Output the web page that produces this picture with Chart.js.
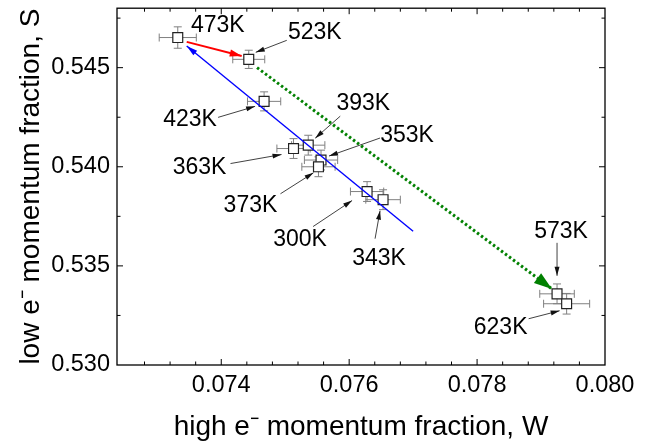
<!DOCTYPE html>
<html>
<head>
<meta charset="utf-8">
<script src="https://cdn.jsdelivr.net/npm/chart.js@4.4.0/dist/chart.umd.min.js"></script>
<style>
  html, body { margin: 0; padding: 0; background: #fff; }
  #grafico { display: block; }
</style>
</head>
<body>
<canvas id="grafico" width="655" height="446"></canvas>
<script>
// datos
const temperaturas = ['300K', '343K', '353K', '363K', '373K', '393K', '423K', '473K', '523K', '573K', '623K'];
const fraccionW = [0.07628, 0.07653, 0.07556, 0.07513, 0.07552, 0.07536, 0.07467, 0.07332, 0.07443, 0.07925, 0.07940];
const fraccionS = [0.53875, 0.53834, 0.54034, 0.54092, 0.54000, 0.54109, 0.54330, 0.54652, 0.54542, 0.53359, 0.53309];
const errorW = [0.00026, 0.00027, 0.00026, 0.00026, 0.00026, 0.00026, 0.00026, 0.00029, 0.00025, 0.00027, 0.00036];
const errorS = [0.00050, 0.00050, 0.00050, 0.00050, 0.00050, 0.00050, 0.00048, 0.00054, 0.00046, 0.00050, 0.00052];

// flechas de tendencia (inicio -> punta)
const flechaRojaW = [0.07346, 0.07432];
const flechaRojaS = [0.54630, 0.54559];
const flechaAzulW = [0.07700, 0.07346];
const flechaAzulS = [0.53675, 0.54609];
const flechaVerdeW = [0.07456, 0.07917];
const flechaVerdeS = [0.54500, 0.53384];

const ticksW = [0.074, 0.076, 0.078, 0.080];
const ticksS = [0.530, 0.535, 0.540, 0.545];
const pasoMenorW = 0.0004;
const pasoMenorS = 0.0025;

// posicion de las etiquetas respecto a cada punto (px)
const posEtiquetas = {
  '300K': { texto: [-67, 48], desde: [-54, 35], hasta: [-15, 9] },
  '343K': { texto: [-4, 59], desde: [-8, 39], hasta: [-3, 11] },
  '353K': { texto: [86, -24], desde: [59, -22], hasta: [8, -4] },
  '363K': { texto: [-94, 19], desde: [-63, 15], hasta: [-12, 6] },
  '373K': { texto: [-68, 39], desde: [-38, 27], hasta: [-5, 6] },
  '393K': { texto: [55, -42], desde: [32, -29], hasta: [7, -7] },
  '423K': { texto: [-74, 18], desde: [-46, 16], hasta: [-9, 5] },
  '473K': { texto: [40, -12] },
  '523K': { texto: [66, -27], desde: [38, -19], hasta: [7, -7] },
  '573K': { texto: [4, -62], desde: [0, -51], hasta: [0, -18] },
  '623K': { texto: [-66, 24], desde: [-38, 15], hasta: [-7, 7] }
};

const fuente = '"Liberation Sans", Arial, sans-serif';
Chart.defaults.font.family = fuente;
Chart.defaults.color = '#000';

function dibujarPunta(ctx, x0, y0, x1, y1, largo, ancho, color) {
  const ang = Math.atan2(y1 - y0, x1 - x0);
  ctx.save();
  ctx.translate(x1, y1);
  ctx.rotate(ang);
  ctx.beginPath();
  ctx.moveTo(0, 0);
  ctx.lineTo(-largo, -ancho / 2);
  ctx.lineTo(-largo, ancho / 2);
  ctx.closePath();
  ctx.fillStyle = color;
  ctx.fill();
  ctx.restore();
}

function lineaConPunta(ctx, x0, y0, x1, y1, color) {
  ctx.save();
  ctx.strokeStyle = color;
  ctx.lineWidth = 0.8;
  ctx.beginPath();
  ctx.moveTo(x0, y0);
  ctx.lineTo(x1, y1);
  ctx.stroke();
  ctx.restore();
  dibujarPunta(ctx, x0, y0, x1, y1, 9, 5, color);
}

const pluginDetalles = {
  id: 'detalles',
  beforeDatasetsDraw(chart) {
    const ctx = chart.ctx;
    const ex = chart.scales.x;
    const ey = chart.scales.y;
    ctx.save();
    ctx.strokeStyle = '#808080';
    ctx.lineWidth = 1;
    const tapa = 4;
    fraccionW.forEach((w, i) => {
      const s = fraccionS[i];
      const x = ex.getPixelForValue(w);
      const y = ey.getPixelForValue(s);
      const xa = ex.getPixelForValue(w - errorW[i]);
      const xb = ex.getPixelForValue(w + errorW[i]);
      const ya = ey.getPixelForValue(s - errorS[i]);
      const yb = ey.getPixelForValue(s + errorS[i]);
      ctx.beginPath();
      ctx.moveTo(xa, y); ctx.lineTo(xb, y);
      ctx.moveTo(xa, y - tapa); ctx.lineTo(xa, y + tapa);
      ctx.moveTo(xb, y - tapa); ctx.lineTo(xb, y + tapa);
      ctx.moveTo(x, ya); ctx.lineTo(x, yb);
      ctx.moveTo(x - tapa, ya); ctx.lineTo(x + tapa, ya);
      ctx.moveTo(x - tapa, yb); ctx.lineTo(x + tapa, yb);
      ctx.stroke();
    });
    ctx.restore();
  },
  afterDatasetsDraw(chart) {
    const ctx = chart.ctx;
    const ex = chart.scales.x;
    const ey = chart.scales.y;
    const area = chart.chartArea;

    // puntas de las flechas de tendencia
    const puntas = [
      { indice: 0, color: '#ff0000', largo: 12, ancho: 7 },
      { indice: 1, color: '#0000ff', largo: 11, ancho: 6 },
      { indice: 2, color: '#008000', largo: 18, ancho: 12 }
    ];
    for (const p of puntas) {
      const pts = chart.getDatasetMeta(p.indice).data;
      dibujarPunta(ctx, pts[0].x, pts[0].y, pts[1].x, pts[1].y, p.largo, p.ancho, p.color);
    }

    // marco y marcas hacia adentro
    ctx.save();
    ctx.strokeStyle = '#000';
    ctx.lineWidth = 1.3;
    ctx.strokeRect(area.left, area.top, area.right - area.left, area.bottom - area.top);
    ctx.lineWidth = 1;
    ctx.beginPath();
    const inicioW = Math.ceil(ex.min / pasoMenorW) * pasoMenorW;
    for (let v = inicioW; v <= ex.max + 1e-9; v += pasoMenorW) {
      const x = ex.getPixelForValue(v);
      if (x < area.left + 2 || x > area.right - 2) continue;
      const mayor = ticksW.some(t => Math.abs(t - v) < 1e-7);
      const l = mayor ? 6 : 3.5;
      ctx.moveTo(x, area.bottom); ctx.lineTo(x, area.bottom - l);
      ctx.moveTo(x, area.top); ctx.lineTo(x, area.top + l);
    }
    const inicioS = Math.ceil(ey.min / pasoMenorS) * pasoMenorS;
    for (let v = inicioS; v <= ey.max + 1e-9; v += pasoMenorS) {
      const y = ey.getPixelForValue(v);
      if (y < area.top + 2 || y > area.bottom - 2) continue;
      const mayor = ticksS.some(t => Math.abs(t - v) < 1e-7);
      const l = mayor ? 6 : 3.5;
      ctx.moveTo(area.left, y); ctx.lineTo(area.left + l, y);
      ctx.moveTo(area.right, y); ctx.lineTo(area.right - l, y);
    }
    ctx.stroke();
    ctx.restore();

    // etiquetas de temperatura
    const puntos = chart.getDatasetMeta(3).data;
    ctx.save();
    ctx.font = '23px ' + fuente;
    ctx.fillStyle = '#000';
    ctx.textAlign = 'center';
    ctx.textBaseline = 'middle';
    temperaturas.forEach((t, i) => {
      const pos = posEtiquetas[t];
      const px = puntos[i].x;
      const py = puntos[i].y;
      ctx.fillText(t, px + pos.texto[0], py + pos.texto[1]);
      if (pos.desde) {
        lineaConPunta(ctx, px + pos.desde[0], py + pos.desde[1], px + pos.hasta[0], py + pos.hasta[1], '#111');
      }
    });
    ctx.restore();
  }
};

function aPuntos(ws, ss) {
  return ws.map((w, i) => ({ x: w, y: ss[i] }));
}

const ctx = document.getElementById('grafico').getContext('2d');
const grafico = new Chart(ctx, {
  type: 'scatter',
  data: {
    datasets: [
      {
        data: aPuntos(flechaRojaW, flechaRojaS),
        showLine: true,
        borderColor: '#ff0000',
        borderWidth: 2,
        pointRadius: 0
      },
      {
        data: aPuntos(flechaAzulW, flechaAzulS),
        showLine: true,
        borderColor: '#0000ff',
        borderWidth: 1.4,
        pointRadius: 0
      },
      {
        data: aPuntos(flechaVerdeW, flechaVerdeS),
        showLine: true,
        borderColor: '#008000',
        borderWidth: 3,
        borderDash: [2.5, 2.5],
        pointRadius: 0
      },
      {
        data: aPuntos(fraccionW, fraccionS),
        pointStyle: 'rect',
        pointRadius: 7,
        pointBorderWidth: 1.2,
        pointBorderColor: '#222',
        pointBackgroundColor: '#fff'
      }
    ]
  },
  options: {
    responsive: false,
    animation: false,
    events: [],
    devicePixelRatio: 1,
    layout: { padding: { top: 7, right: 50, bottom: 0, left: 0 } },
    plugins: {
      legend: { display: false },
      tooltip: { enabled: false }
    },
    scales: {
      x: {
        type: 'linear',
        min: 0.07237,
        max: 0.0800,
        grid: { display: false, drawTicks: false },
        border: { display: false },
        ticks: {
          font: { size: 23.5 },
          color: '#000',
          padding: 6,
          autoSkip: false,
          maxRotation: 0,
          callback: v => v.toFixed(3)
        },
        afterBuildTicks: eje => { eje.ticks = ticksW.map(v => ({ value: v })); },
        afterFit: eje => { eje.height = 81; },
        title: {
          display: true,
          text: 'high e\u207B momentum fraction, W',
          font: { size: 28 },
          color: '#000',
          padding: { top: 0, bottom: 2 }
        }
      },
      y: {
        type: 'linear',
        min: 0.530,
        max: 0.548,
        grid: { display: false, drawTicks: false },
        border: { display: false },
        ticks: {
          font: { size: 23.5 },
          color: '#000',
          padding: 7,
          autoSkip: false,
          callback: v => v.toFixed(3)
        },
        afterBuildTicks: eje => { eje.ticks = ticksS.map(v => ({ value: v })); },
        afterFit: eje => {
          eje.width = 117;
          eje.paddingTop = 0;
          eje.paddingBottom = 0;
        },
        title: {
          display: true,
          text: 'low e\u207B momentum fraction, S',
          font: { size: 28 },
          color: '#000',
          padding: { top: 14, bottom: 0 }
        }
      }
    }
  },
  plugins: [pluginDetalles]
});
</script>
</body>
</html>
